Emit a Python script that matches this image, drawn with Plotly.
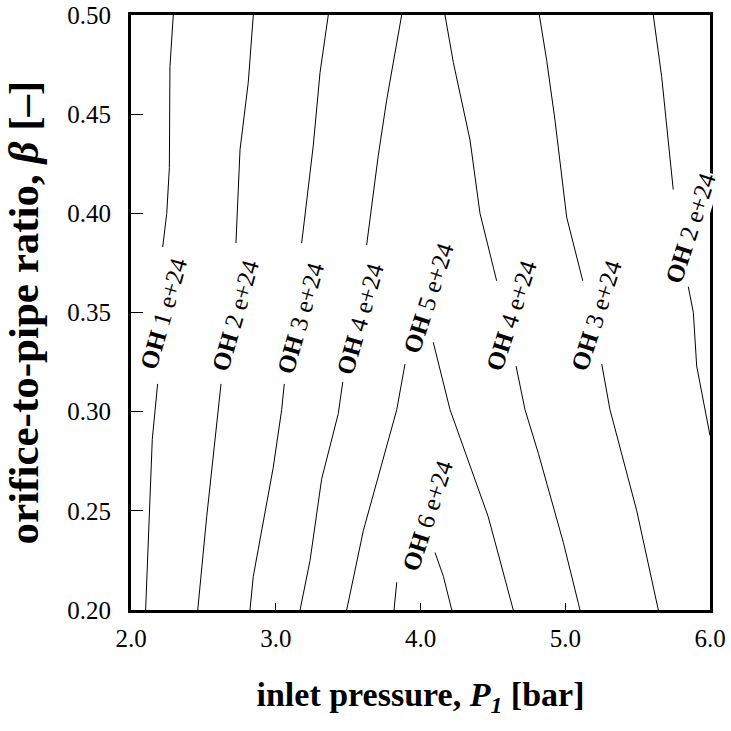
import plotly.graph_objects as go

# Contour lines of OH concentration (x = inlet pressure [bar], y = beta). None = label gap.
p_oh1 = [2.292, 2.269, 2.265, 2.247, 2.219, None, 2.184, 2.147, 2.101]
b_oh1 = [0.500, 0.474, 0.423, 0.400, 0.383, None, 0.314, 0.286, 0.200]

p_oh2a = [2.845, 2.810, 2.753, 2.725, None, 2.622, 2.599, 2.523, 2.461]
b_oh2a = [0.500, 0.466, 0.432, 0.385, None, 0.314, 0.298, 0.247, 0.200]

p_oh3a = [3.363, 3.306, 3.259, 3.179, None, 3.059, 3.041, 2.983, 2.845, 2.822]
b_oh3a = [0.500, 0.471, 0.434, 0.385, None, 0.314, 0.301, 0.272, 0.217, 0.200]

p_oh4a = [3.870, 3.766, 3.708, 3.628, None, 3.463, 3.432, 3.317, 3.237, 3.168]
b_oh4a = [0.500, 0.457, 0.429, 0.384, None, 0.315, 0.299, 0.266, 0.225, 0.200]

p_oh5 = [3.490, 3.605, 3.836, 3.893, None, 4.088, 4.204, 4.468, 4.641]
b_oh5 = [0.200, 0.240, 0.301, 0.324, None, 0.335, 0.301, 0.247, 0.200]

p_oh4b = [4.169, 4.227, 4.342, 4.411, 4.526, None, 4.660, 4.722, 4.814, 4.987, 5.102]
b_oh4b = [0.500, 0.476, 0.437, 0.400, 0.366, None, 0.323, 0.301, 0.279, 0.234, 0.200]

p_oh3b = [4.821, 4.872, 4.929, 5.010, 5.121, None, 5.252, 5.309, 5.494, 5.643]
b_oh3b = [0.500, 0.477, 0.447, 0.398, 0.366, None, 0.324, 0.301, 0.250, 0.200]

p_oh2b = [5.608, 5.666, 5.746, None, 5.850, 5.885, 5.908, 5.965, 6.000]
b_oh2b = [0.500, 0.469, 0.412, None, 0.363, 0.350, 0.323, 0.301, 0.288]

p_oh6 = [3.817, 3.836, None, 4.100, 4.158, 4.216]
b_oh6 = [0.200, 0.214, None, 0.229, 0.217, 0.200]

contours = [
    (p_oh1, b_oh1), (p_oh2a, b_oh2a), (p_oh3a, b_oh3a), (p_oh4a, b_oh4a),
    (p_oh5, b_oh5), (p_oh4b, b_oh4b), (p_oh3b, b_oh3b), (p_oh2b, b_oh2b),
    (p_oh6, b_oh6),
]

# Contour labels
label_levels = ["1", "2", "3", "4", "5", "4", "3", "2", "6"]
label_p = [2.228, 2.725, 3.168, 3.582, 4.052, 4.632, 5.219, 5.862, 4.052]
label_b = [0.3493, 0.3488, 0.3472, 0.3472, 0.3573, 0.3488, 0.3488, 0.3926, 0.2474]
label_angle = [-74, -74, -74, -74, -72, -72, -72, -72, -72]

x_ticks = [2.0, 3.0, 4.0, 5.0, 6.0]
y_ticks = [0.20, 0.25, 0.30, 0.35, 0.40, 0.45, 0.50]

SERIF = "Liberation Serif, Times New Roman, serif"

fig = go.Figure()
for px, by in contours:
    fig.add_trace(go.Scatter(x=px, y=by, mode="lines",
                             line=dict(color="black", width=1),
                             connectgaps=False, showlegend=False, hoverinfo="skip"))

for lev, lp, lb, ang in zip(label_levels, label_p, label_b, label_angle):
    fig.add_annotation(x=lp, y=lb, xref="x", yref="y",
                       text=f"<b>OH</b> {lev} e+24", showarrow=False,
                       textangle=ang, bgcolor="white", borderpad=0,
                       font=dict(family=SERIF, size=25, color="black"))

fig.update_layout(
    width=731, height=731,
    margin=dict(l=131, r=21, t=15, b=121, autoexpand=False),
    plot_bgcolor="white", paper_bgcolor="white",
    font=dict(family=SERIF, color="black"),
    showlegend=False,
)
fig.update_xaxes(range=[2, 6], tickvals=x_ticks, tickformat=".1f",
                 ticks="inside", ticklen=7, tickwidth=1, tickcolor="black",
                 showline=True, linewidth=3, linecolor="black", mirror=True,
                 showgrid=False, zeroline=False, automargin=False,
                 tickfont=dict(family=SERIF, size=25),
                 ticklabelstandoff=4,
                 title=dict(text="<b>inlet pressure, <i>P<sub>1</sub></i> [bar]</b>",
                            font=dict(family=SERIF, size=34), standoff=32))
fig.update_yaxes(range=[0.2, 0.5], tickvals=y_ticks, tickformat=".2f",
                 ticks="inside", ticklen=12, tickwidth=1, tickcolor="black",
                 showline=True, linewidth=3, linecolor="black", mirror=True,
                 showgrid=False, zeroline=False, automargin=False,
                 tickfont=dict(family=SERIF, size=25),
                 ticklabelstandoff=12,
                 title=dict(text="<b>orifice-to-pipe ratio, <i>β</i> [–]</b>",
                            font=dict(family=SERIF, size=43), standoff=18))

fig.write_html("out.html", config={"displayModeBar": False},
               post_script="document.body.style.margin='0';")
